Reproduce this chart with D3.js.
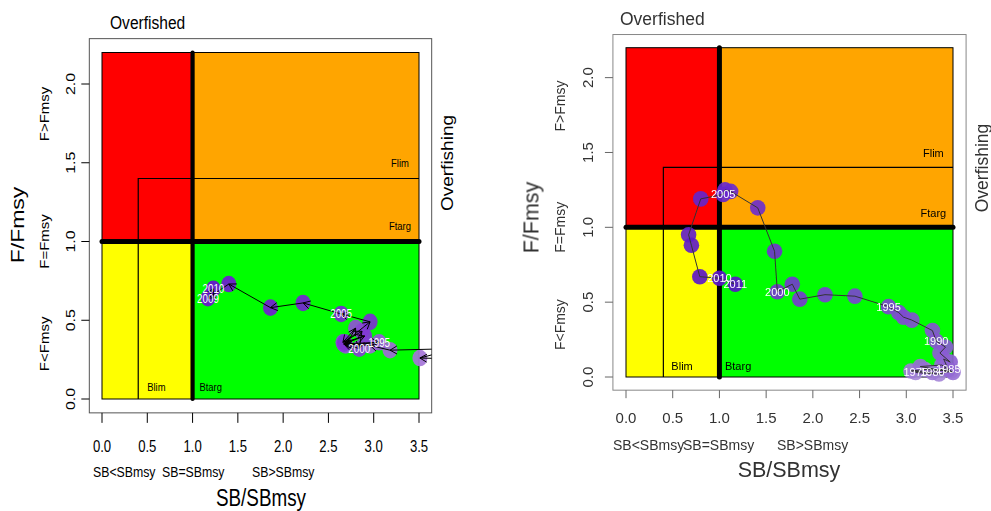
<!DOCTYPE html>
<html><head><meta charset="utf-8">
<script src="https://cdn.jsdelivr.net/npm/d3@7"></script>
<style>body{margin:0;background:#fff}svg{display:block}</style>
</head><body><svg id="c" width="991" height="511"></svg>
<script>
// ---------- data ----------
const xTicks=[0,0.5,1,1.5,2,2.5,3,3.5];
const xTickLabels=["0.0","0.5","1.0","1.5","2.0","2.5","3.0","3.5"];
const yTicks=[0,0.5,1,1.5,2];
const yTickLabels=["0.0","0.5","1.0","1.5","2.0"];
const zoneX0=[0,1,0,1], zoneX1=[1,3.5,1,3.5], zoneY0=[1,1,0,0], zoneY1=[2.2,2.2,1,1];
const zoneColors=["#ff0000","#ffa500","#ffff00","#00ff00"];
const Blim=0.4, Flim=1.4, Btarg=1, Ftarg=1;
const refNames=["Flim","Ftarg","Blim","Btarg"];
const refLabelX=[3.29,3.29,0.6,1.2], refLabelY=[1.47,1.07,0.05,0.05];
const xLabels=["SB<SBmsy","SB=SBmsy","SB>SBmsy"];
const yLabels=["F<Fmsy","F=Fmsy","F>Fmsy"];
const yLabelPos=[0.35,1.0,1.81];

const leftYears=[1989,1990,1991,1992,1993,1994,1995,1996,1997,1998,1999,2000,2001,2002,2003,2004,2005,2006,2007,2008,2009,2010];
const leftSB=[4.3,3.51,3.9,3.18,2.96,2.67,3.06,2.69,2.80,2.66,2.87,2.84,2.67,2.90,2.68,2.96,2.64,2.22,1.86,1.40,1.17,1.23];
const leftF =[0.25,0.26,0.32,0.31,0.34,0.35,0.36,0.34,0.45,0.36,0.43,0.32,0.35,0.40,0.36,0.49,0.54,0.61,0.58,0.73,0.64,0.70];
const leftLabelYears=[1995,2000,2005,2009,2010];

const rightYears=[1975,1976,1977,1978,1979,1980,1981,1982,1983,1984,1985,1986,1987,1988,1989,1990,1991,1992,1993,1994,1995,1996,1997,1998,1999,2000,2001,2002,2003,2004,2005,2006,2007,2008,2009,2010,2011];
const rightSB=[3.10,3.35,3.48,3.20,3.05,3.28,3.42,3.50,3.15,3.38,3.45,3.40,3.47,3.36,3.42,3.32,3.28,3.06,2.97,2.92,2.81,2.45,2.13,1.86,1.78,1.62,1.59,1.41,1.12,1.06,1.04,0.80,0.67,0.70,0.79,1.00,1.17];
const rightF =[0.03,0.02,0.04,0.05,0.04,0.03,0.06,0.03,0.07,0.08,0.05,0.12,0.10,0.16,0.20,0.24,0.31,0.38,0.40,0.43,0.47,0.54,0.55,0.52,0.62,0.57,0.84,1.13,1.24,1.25,1.22,1.19,0.95,0.88,0.67,0.66,0.62];
const rightLabelYears=[1975,1980,1985,1990,1995,2000,2005,2010,2011];

// ---------- layout ----------
const svg=d3.select("#c");
const defs=svg.append("defs");
defs.append("filter").attr("id","soft").append("feGaussianBlur").attr("stdDeviation",0.55);
const FONT="'Liberation Sans', Arial, Helvetica, sans-serif";

const panels=[
 {id:"L",xr:[102,419],yr:[399,52.5],sx:0.82,tick:16,small:15,title:23,zone:19,ref:11.5,pt:12,
  txtCol:"#000",tickCol:"#000",boxCol:"#555",xTickLen:10,yTickLen:8,
  xTickBase:452,yTickX:75,yLabX:49,yTitleX:24,yTitleY:225,xTitleX:261,xTitleBase:506,
  xLabBase:477,xLabStarts:[93,162,252],ofX:110,ofBase:29,ogX:453,ogY:163,
  rx:7.5,ry:8.3,arrow:8,thickV:4.2,thickH:5,
  years:leftYears,sb:leftSB,f:leftF,labels:leftLabelYears,
  colA:"#a87ad8",colB:"#6a0fd2",lineCol:"#000",blur:false},
 {id:"R",xr:[626,953],yr:[377,47.7],sx:1,tick:15,small:14,title:21.5,zone:17.5,ref:11,pt:11,
  txtCol:"#333",tickCol:"#666",boxCol:"#888",xTickLen:8,yTickLen:8,
  xTickBase:423,yTickX:593,yLabX:565,yTitleX:538.5,yTitleY:217.5,xTitleX:789,xTitleBase:477,
  xLabBase:450,xLabStarts:[613,683,777],ofX:620,ofBase:25,ogX:988,ogY:168,
  rx:7.8,ry:7.8,arrow:0,thickV:5,thickH:5,
  years:rightYears,sb:rightSB,f:rightF,labels:rightLabelYears,
  colA:"#a88ad8",colB:"#5a12c8",lineCol:"#333",blur:true}
];

function txt(g,x,y,s,size,anchor,rot,sx,fill,weight){
  return g.append("text").attr("transform",`translate(${x},${y}) scale(${sx},1) rotate(${rot})`)
   .attr("text-anchor",anchor).attr("font-family",FONT).attr("font-size",size)
   .attr("fill",fill).attr("font-weight",weight||"normal").text(s);
}

panels.forEach(p=>{
  const g=svg.append("g");
  if(p.blur) g.attr("filter","url(#soft)");
  const x=d3.scaleLinear().domain([0,3.5]).range(p.xr);
  const y=d3.scaleLinear().domain([0,2.2]).range(p.yr);
  const bx0=x(-0.14),bx1=x(3.64),by0=y(2.288),by1=y(-0.088);

  // zones
  zoneColors.forEach((c,i)=>{
    g.append("rect").attr("x",x(zoneX0[i])).attr("y",y(zoneY1[i]))
     .attr("width",x(zoneX1[i])-x(zoneX0[i])).attr("height",y(zoneY0[i])-y(zoneY1[i]))
     .attr("fill",c).attr("stroke","#000").attr("stroke-width",1);
  });
  // limit lines
  g.append("path").attr("d",`M${x(Blim)},${y(0)}V${y(Flim)}H${x(3.5)}`)
   .attr("fill","none").attr("stroke","#000").attr("stroke-width",1.2);
  g.append("line").attr("x1",x(Btarg)).attr("x2",x(Btarg)).attr("y1",y(0)).attr("y2",y(2.2))
   .attr("stroke","#000").attr("stroke-width",p.thickV).attr("stroke-linecap","round");
  g.append("line").attr("x1",x(0)).attr("x2",x(3.5)).attr("y1",y(Ftarg)).attr("y2",y(Ftarg))
   .attr("stroke","#000").attr("stroke-width",p.thickH).attr("stroke-linecap","round");
  refNames.forEach((n,i)=>txt(g,x(refLabelX[i]),y(refLabelY[i]),n,p.ref,"middle",0,p.sx,"#000"));

  // box
  g.append("rect").attr("x",bx0).attr("y",by0).attr("width",bx1-bx0).attr("height",by1-by0)
   .attr("fill","none").attr("stroke",p.boxCol).attr("stroke-width",1);

  // axes ticks
  xTicks.forEach((t,i)=>{
    g.append("line").attr("x1",x(t)).attr("x2",x(t)).attr("y1",by1).attr("y2",by1+p.xTickLen)
     .attr("stroke",p.tickCol);
    txt(g,x(t),p.xTickBase,xTickLabels[i],p.tick,"middle",0,p.sx,p.txtCol);
  });
  yTicks.forEach((t,i)=>{
    g.append("line").attr("x1",bx0-p.yTickLen).attr("x2",bx0).attr("y1",y(t)).attr("y2",y(t))
     .attr("stroke",p.tickCol);
    txt(g,p.yTickX,y(t),yTickLabels[i],p.tick,"middle",-90,p.sx,p.txtCol);
  });
  yLabels.forEach((s,i)=>txt(g,p.yLabX,y(yLabelPos[i]),s,p.small,"middle",-90,p.sx,p.txtCol));
  xLabels.forEach((s,i)=>txt(g,p.xLabStarts[i],p.xLabBase,s,p.small,"start",0,p.sx,p.txtCol));
  txt(g,p.yTitleX,p.yTitleY,"F/Fmsy",p.title,"middle",-90,p.sx,p.txtCol);
  txt(g,p.xTitleX,p.xTitleBase,"SB/SBmsy",p.title,"middle",0,p.sx,p.txtCol);
  txt(g,p.ofX,p.ofBase,"Overfished",p.zone,"start",0,p.sx,p.txtCol);
  txt(g,p.ogX,p.ogY,"Overfishing",p.zone,"middle",-90,p.sx,p.txtCol);

  // trajectory
  const cid="clip"+p.id;
  defs.append("clipPath").attr("id",cid).append("rect")
   .attr("x",bx0).attr("y",by0).attr("width",bx1-bx0).attr("height",by1-by0);
  const tg=g.append("g").attr("clip-path",`url(#${cid})`);
  const n=p.years.length;
  const col=d3.scaleLinear().domain([0,n-1]).range([p.colA,p.colB]).interpolate(d3.interpolateRgb);
  p.years.forEach((yr,i)=>{
    tg.append("ellipse").attr("cx",x(p.sb[i])).attr("cy",y(p.f[i]))
     .attr("rx",p.rx).attr("ry",p.ry).attr("fill",col(i)).attr("fill-opacity",0.92);
  });
  for(let i=0;i<n-1;i++){
    const x1=x(p.sb[i]),y1=y(p.f[i]),x2=x(p.sb[i+1]),y2=y(p.f[i+1]);
    let d=`M${x1},${y1}L${x2},${y2}`;
    if(p.arrow>0){
      const a=Math.atan2(y2-y1,x2-x1),L=p.arrow,w=Math.PI/6;
      d+=`M${x2-L*Math.cos(a-w)},${y2-L*Math.sin(a-w)}L${x2},${y2}L${x2-L*Math.cos(a+w)},${y2-L*Math.sin(a+w)}`;
    }
    tg.append("path").attr("d",d).attr("fill","none").attr("stroke",p.lineCol).attr("stroke-width",1);
  }
  p.labels.forEach(yr=>{
    const i=p.years.indexOf(yr);
    txt(tg,x(p.sb[i]),y(p.f[i])+p.pt*0.36,String(yr),p.pt,"middle",0,p.sx,"#fff");
  });
});
</script></body></html>
